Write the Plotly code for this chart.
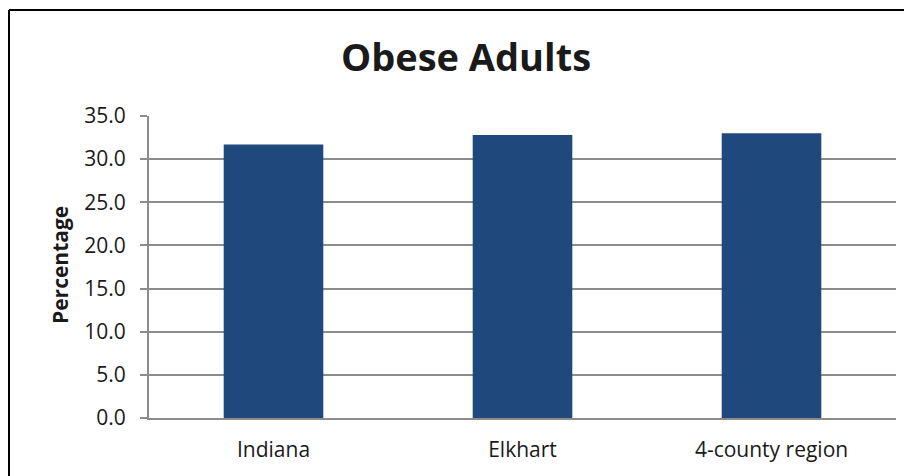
import plotly.graph_objects as go

# data
regions = ["Indiana", "Elkhart", "4-county region"]
obese_pct = [31.7, 32.8, 33.0]
y_ticks = [0, 5, 10, 15, 20, 25, 30, 35]
y_tick_labels = [f"{v:.1f}" for v in y_ticks]

OFF = 8  # page body margin shifts the figure by 8px
W, H = 912 - OFF, 476 - OFF
L, R, T, B = 149 - OFF, 16, 116 - OFF, 58
pw, ph = W - L - R, H - T - B


def px_x(x):
    return (x - OFF - L) / pw


def px_y(y):
    return (H - B - (y - OFF)) / ph


fig = go.Figure(
    go.Bar(
        x=regions, y=obese_pct,
        marker=dict(color="#1f497d", line=dict(width=0)),
        width=0.4,
    )
)

font = "Open Sans, Liberation Sans, sans-serif"
grid = "#8c8c8c"

fig.update_layout(
    width=W, height=H,
    margin=dict(l=L, r=R, t=T, b=B),
    plot_bgcolor="white", paper_bgcolor="white",
    showlegend=False,
    title=dict(
        text="<b>Obese Adults</b>",
        x=(466 - OFF) / W, xanchor="center",
        y=1 - (58 - OFF) / H, yanchor="middle",
        font=dict(family=font, size=38, color="#1a1a1a"),
    ),
    font=dict(family=font, color="#1a1a1a"),
)

fig.update_yaxes(
    range=[0, 35], tickvals=y_ticks, ticktext=y_tick_labels,
    showgrid=True, gridcolor=grid, gridwidth=2,
    showline=True, linecolor=grid, linewidth=2,
    ticks="outside", ticklen=7, tickcolor=grid, tickwidth=2,
    tickfont=dict(size=21, family=font, color="#1a1a1a"),
    ticklabelstandoff=10,
    zeroline=False,
)
fig.update_xaxes(
    showline=True, linecolor=grid, linewidth=2,
    ticks="", tickfont=dict(size=21, family=font, color="#1a1a1a"),
    ticklabelstandoff=12,
)

fig.add_annotation(
    text="<b>Percentage</b>", textangle=-90,
    xref="paper", yref="paper", x=px_x(60), y=px_y(265),
    xanchor="center", yanchor="middle",
    showarrow=False, font=dict(size=21, family=font, color="#1a1a1a"),
)

# outer chart border: only the left and top edges are inside the window
border = dict(color="black", width=2)
fig.add_shape(type="line", xref="paper", yref="paper",
              x0=px_x(9), x1=px_x(912), y0=px_y(10), y1=px_y(10), line=border)
fig.add_shape(type="line", xref="paper", yref="paper",
              x0=px_x(9), x1=px_x(9), y0=px_y(10), y1=px_y(476), line=border)

fig.write_html(
    "out.html",
    post_script="document.body.style.overflow='hidden';",
)
